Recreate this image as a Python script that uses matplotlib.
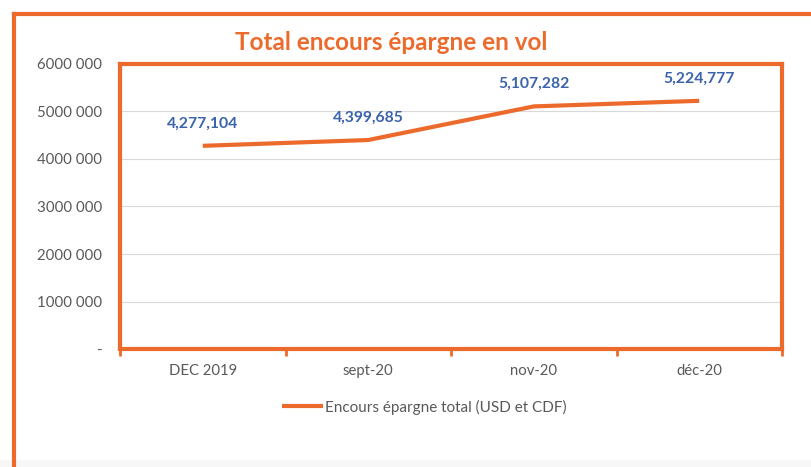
import matplotlib.pyplot as plt
from matplotlib.lines import Line2D
from matplotlib.patches import Rectangle

# data
categories = ['DEC 2019', 'sept-20', 'nov-20', 'déc-20']
encours = [4277104, 4399685, 5107282, 5224777]
value_labels = ['4,277,104', '4,399,685', '5,107,282', '5,224,777']
y_ticks = [0, 1000000, 2000000, 3000000, 4000000, 5000000, 6000000]
y_tick_labels = ['-', '1000 000', '2000 000', '3000 000', '4000 000', '5000 000', '6000 000']

orange = '#EC6A2C'
blue = '#3B64AD'
grey = '#595959'

plt.rcParams['font.family'] = ['Lato', 'DejaVu Sans']

W, H = 812, 467
fig = plt.figure(figsize=(W / 100, H / 100), dpi=100)

# outer frame (cut off on the right and bottom)
fig.add_artist(Line2D([14 / W, 14 / W], [0, 1 - 14 / H], color=orange, lw=3, transform=fig.transFigure))
fig.add_artist(Line2D([14 / W, 1], [1 - 14 / H, 1 - 14 / H], color=orange, lw=3, transform=fig.transFigure))
fig.add_artist(Rectangle((0, 0), 1, 7 / H, color='#F7F7F7', transform=fig.transFigure, zorder=-1))

ax = fig.add_axes([120 / W, 1 - 349 / H, (782 - 120) / W, (349 - 64) / H])

x = range(len(categories))
ax.plot(x, encours, color=orange, lw=3, solid_capstyle='butt', label='Encours épargne total (USD et CDF)')
for xi, v, lab in zip(x, encours, value_labels):
    ax.annotate(lab, (xi, v), xytext=(0, 11), textcoords='offset points', ha='center', va='bottom',
                color=blue, fontsize=11.3, fontweight='bold')

ax.set_xlim(-0.5, len(categories) - 0.5)
ax.set_ylim(0, 6000000)
ax.set_yticks(y_ticks)
ax.set_yticklabels(y_tick_labels)
ax.set_xticks(list(x))
ax.set_xticklabels(categories)
ax.set_xticks([i - 0.5 for i in range(len(categories) + 1)], minor=True)
ax.tick_params(axis='x', which='major', length=0, pad=11, labelcolor=grey, labelsize=10.7)
ax.tick_params(axis='x', which='minor', length=5, width=2, color=orange, direction='out')
ax.tick_params(axis='y', length=0, pad=13, labelcolor=grey, labelsize=10.8)
ax.grid(axis='y', color='#D9D9D9', lw=0.8)
ax.set_axisbelow(True)
for s in ax.spines.values():
    s.set_color(orange)
    s.set_linewidth(3)

fig.text(391 / W, 1 - 42 / H, 'Total encours épargne en vol', ha='center', va='center',
         color=orange, fontsize=17.5, fontweight='bold')

ax.legend(loc='center', bbox_to_anchor=(424 / W, 1 - 407 / H), bbox_transform=fig.transFigure,
          frameon=False, fontsize=11, labelcolor=grey, handlelength=2.7, handletextpad=0.1)

fig.savefig('out.png', dpi=100)
